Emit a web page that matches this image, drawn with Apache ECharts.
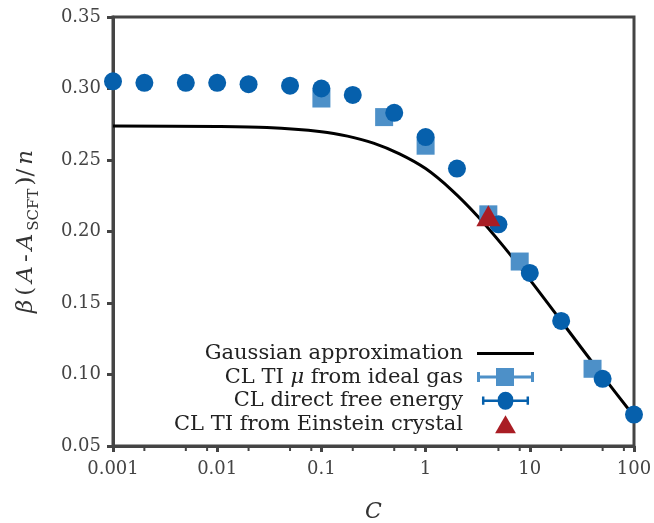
<!DOCTYPE html>
<html>
<head>
<meta charset="utf-8">
<script src="https://cdn.jsdelivr.net/npm/echarts@6/dist/echarts.min.js"></script>
<style>
  html, body { margin: 0; padding: 0; background: #fff; }
  #chart { width: 654px; height: 523px; }
</style>
</head>
<body>
<div id="chart"></div>
<script>
// values
const gaussC = [0.001, 0.01, 0.03, 0.1, 0.178, 0.316, 0.562, 1, 1.78, 3.16, 5.62, 10, 20, 50, 100]
const gaussY = [0.2737, 0.2734, 0.2727, 0.2698, 0.2667, 0.2618, 0.2543, 0.2440, 0.2290, 0.2107, 0.1894, 0.1663, 0.1374, 0.0990, 0.0708]

const tiC = [0.1, 0.4, 1, 4, 8, 40]
const tiY = [0.293, 0.280, 0.260, 0.212, 0.179, 0.104]

const directC = [0.001, 0.002, 0.005, 0.01, 0.02, 0.05, 0.1, 0.2, 0.5, 1, 2, 5, 10, 20, 50, 100]
const directY = [0.305, 0.304, 0.304, 0.304, 0.303, 0.302, 0.300, 0.2955, 0.283, 0.266, 0.244, 0.205, 0.171, 0.1375, 0.097, 0.072]

const einC = [4]
const einY = [0.211]

const xMinorTicks = [0.002, 0.005, 0.008, 0.02, 0.05, 0.08, 0.2, 0.5, 0.8, 2, 5, 8, 20, 50, 80]

const names = ['Gaussian approximation', 'CL TI \u03bc from ideal gas', 'CL direct free energy', 'CL TI from Einstein crystal']

const font = 'DejaVu Serif'
const frame = '#444444'

const zip = (xs, ys) => xs.map((x, i) => [x, ys[i]])

const chart = echarts.init(document.getElementById('chart'))

// legend icons: plain line, and marker with error bar + caps
const lineIcon = 'path://M0,0L57,0L57,3L0,3Z'
const errIconSquare = 'path://M0,4L3,4L3,7.5L19,7.5L19,0L37,0L37,7.5L54,7.5L54,4L57,4L57,14L54,14L54,10.5L37,10.5L37,18L19,18L19,10.5L3,10.5L3,14L0,14Z'
const errIconCircle = 'path://M0,4L3,4L3,7.5L19.1,7.5A9,9 0 0,1 37.9,7.5L54,7.5L54,4L57,4L57,14L54,14L54,10.5L37.9,10.5A9,9 0 0,1 19.1,10.5L3,10.5L3,14L0,14Z'

const option = {
  animation: false,
  textStyle: { fontFamily: font },
  grid: {
    left: 113,
    right: 20,
    top: 17,
    bottom: 77,
    outerBoundsMode: 'none',
    containLabel: false,
    show: true,
    borderColor: frame,
    borderWidth: 3,
    backgroundColor: 'transparent'
  },
  legend: {
    orient: 'vertical',
    align: 'right',
    right: 115,
    top: 338,
    itemWidth: 57,
    itemHeight: 18,
    itemGap: 2.6,
    symbolKeepAspect: true,
    formatter: name => name.replace('\u03bc', '{i|\u03bc}'),
    textStyle: {
      fontFamily: font,
      fontSize: 21,
      color: '#222',
      padding: [0, 9, 0, 0],
      rich: {
        i: { fontFamily: font, fontSize: 21, fontStyle: 'italic', color: '#222' }
      }
    },
    data: [
      { name: names[0], icon: lineIcon },
      { name: names[1], icon: errIconSquare },
      { name: names[2], icon: errIconCircle },
      { name: names[3], icon: 'path://M11,0L22,19L0,19Z' }
    ]
  },
  xAxis: {
    type: 'log',
    logBase: 10,
    min: 0.001,
    max: 100,
    name: 'C',
    nameLocation: 'middle',
    nameGap: 55,
    nameTextStyle: { fontFamily: font, fontSize: 22, fontStyle: 'italic', color: '#333' },
    axisLine: { show: true, lineStyle: { color: frame, width: 3 } },
    axisTick: { show: true, inside: false, length: 6, lineStyle: { color: frame, width: 3 } },
    axisLabel: {
      color: '#444',
      fontSize: 18,
      margin: 14,
      formatter: v => String(+v.toPrecision(3))
    },
    splitLine: { show: false }
  },
  yAxis: {
    type: 'value',
    min: 0.05,
    max: 0.35,
    interval: 0.05,
    name: '{i|\u03b2}{r|(}{i|A}{r|-}{i|A}{s|SCFT}{r|)/}{i|n}',
    nameLocation: 'middle',
    nameGap: 70,
    nameRotate: 90,
    nameTextStyle: {
      color: '#333',
      rich: {
        i: { fontFamily: font, fontSize: 23, fontStyle: 'italic', color: '#333', lineHeight: 26, padding: [0, 2, 7, 2] },
        r: { fontFamily: font, fontSize: 23, color: '#333', lineHeight: 26, padding: [0, 2, 7, 2] },
        s: { fontFamily: font, fontSize: 15, color: '#333', lineHeight: 18, padding: [12, 1, 3, 1] }
      }
    },
    axisLine: { show: true, lineStyle: { color: frame, width: 3 } },
    axisTick: { show: true, inside: false, length: 6, lineStyle: { color: frame, width: 3 } },
    axisLabel: {
      color: '#444',
      fontSize: 18,
      margin: 12,
      formatter: v => v.toFixed(2)
    },
    splitLine: { show: false }
  },
  series: [
    {
      name: names[0],
      type: 'line',
      data: zip(gaussC, gaussY),
      smooth: 0.3,
      symbol: 'none',
      lineStyle: { color: '#000', width: 3 },
      itemStyle: { color: '#000' },
      z: 2
    },
    {
      name: names[1],
      type: 'scatter',
      data: zip(tiC, tiY),
      symbol: 'rect',
      symbolSize: 18,
      itemStyle: { color: '#4d90c8', opacity: 1 },
      z: 3
    },
    {
      name: names[2],
      type: 'scatter',
      data: zip(directC, directY),
      symbol: 'circle',
      symbolSize: 18,
      itemStyle: { color: '#0660ac', opacity: 1 },
      z: 4
    },
    {
      name: names[3],
      type: 'scatter',
      data: zip(einC, einY),
      symbol: 'triangle',
      symbolSize: [24, 21],
      itemStyle: { color: '#a91d24', opacity: 1 },
      z: 5
    },
    {
      // minor ticks of the log axis (at 2, 5, 8 of each decade)
      type: 'custom',
      silent: true,
      clip: false,
      legendHoverLink: false,
      data: xMinorTicks.map(v => [v, 0.05]),
      renderItem: (params, api) => {
        const p = api.coord([api.value(0), api.value(1)])
        return {
          type: 'line',
          shape: { x1: p[0], y1: p[1] + 1, x2: p[0], y2: p[1] + 5 },
          style: { stroke: frame, lineWidth: 2 }
        }
      },
      z: 1
    }
  ]
}

chart.setOption(option)
</script>
</body>
</html>
